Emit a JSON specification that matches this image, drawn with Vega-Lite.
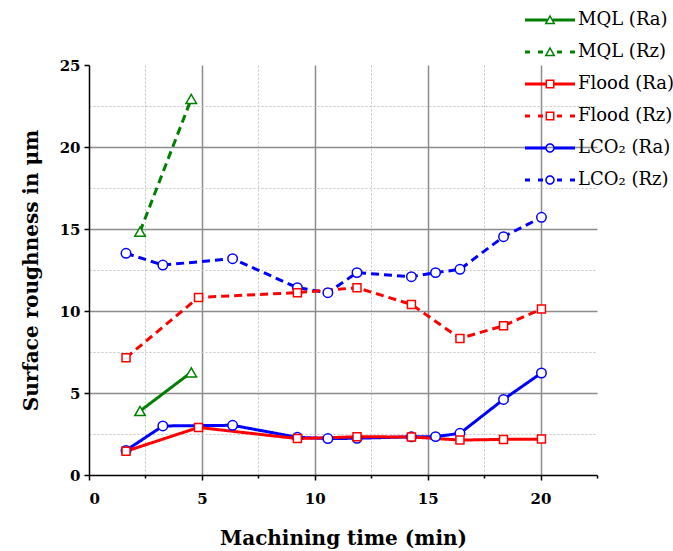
{
  "$schema": "https://vega.github.io/schema/vega-lite/v6.json",
  "width": 508,
  "height": 410,
  "autosize": {"type": "none"},
  "padding": {"left": 89, "top": 65, "right": 76, "bottom": 76},
  "background": "white",
  "config": {
    "view": {"stroke": null},
    "font": "DejaVu Serif",
    "axis": {
      "labelFont": "DejaVu Serif",
      "labelFontWeight": "bold",
      "labelFontSize": 15,
      "labelColor": "black",
      "titleFont": "DejaVu Serif",
      "titleFontWeight": "bold",
      "titleFontSize": 20,
      "titleColor": "black",
      "domainColor": "black",
      "domainWidth": 1.5,
      "tickColor": "black",
      "tickWidth": 1.5,
      "tickSize": 5
    },
    "legend": {
      "symbolStrokeWidth": 0,
      "labelFont": "DejaVu Serif",
      "labelFontSize": 18,
      "labelFontWeight": "normal",
      "labelColor": "black"
    }
  },
  "data": {
    "values": [
      {"method": "LCO2", "series": "LCO₂ (Ra)", "t": 1.64, "v": 1.5},
      {"method": "LCO2", "series": "LCO₂ (Ra)", "t": 3.27, "v": 2.99},
      {"method": "LCO2", "series": "LCO₂ (Ra)", "t": 6.36, "v": 3.03},
      {"method": "LCO2", "series": "LCO₂ (Ra)", "t": 9.23, "v": 2.3},
      {"method": "LCO2", "series": "LCO₂ (Ra)", "t": 10.58, "v": 2.22},
      {"method": "LCO2", "series": "LCO₂ (Ra)", "t": 11.87, "v": 2.24},
      {"method": "LCO2", "series": "LCO₂ (Ra)", "t": 14.28, "v": 2.33},
      {"method": "LCO2", "series": "LCO₂ (Ra)", "t": 15.35, "v": 2.34},
      {"method": "LCO2", "series": "LCO₂ (Ra)", "t": 16.43, "v": 2.54},
      {"method": "LCO2", "series": "LCO₂ (Ra)", "t": 18.36, "v": 4.61},
      {"method": "LCO2", "series": "LCO₂ (Ra)", "t": 20.04, "v": 6.22},
      {"method": "LCO2", "series": "LCO₂ (Rz)", "t": 1.64, "v": 13.52},
      {"method": "LCO2", "series": "LCO₂ (Rz)", "t": 3.27, "v": 12.8},
      {"method": "LCO2", "series": "LCO₂ (Rz)", "t": 6.36, "v": 13.19},
      {"method": "LCO2", "series": "LCO₂ (Rz)", "t": 9.23, "v": 11.42},
      {"method": "LCO2", "series": "LCO₂ (Rz)", "t": 10.58, "v": 11.12},
      {"method": "LCO2", "series": "LCO₂ (Rz)", "t": 11.87, "v": 12.34},
      {"method": "LCO2", "series": "LCO₂ (Rz)", "t": 14.28, "v": 12.09},
      {"method": "LCO2", "series": "LCO₂ (Rz)", "t": 15.35, "v": 12.34},
      {"method": "LCO2", "series": "LCO₂ (Rz)", "t": 16.43, "v": 12.54},
      {"method": "LCO2", "series": "LCO₂ (Rz)", "t": 18.36, "v": 14.53},
      {"method": "LCO2", "series": "LCO₂ (Rz)", "t": 20.04, "v": 15.71},
      {"method": "Flood", "series": "Flood (Ra)", "t": 1.64, "v": 1.45},
      {"method": "Flood", "series": "Flood (Ra)", "t": 4.85, "v": 2.9},
      {"method": "Flood", "series": "Flood (Ra)", "t": 9.23, "v": 2.22},
      {"method": "Flood", "series": "Flood (Ra)", "t": 11.87, "v": 2.33},
      {"method": "Flood", "series": "Flood (Ra)", "t": 14.28, "v": 2.32},
      {"method": "Flood", "series": "Flood (Ra)", "t": 16.43, "v": 2.13},
      {"method": "Flood", "series": "Flood (Ra)", "t": 18.36, "v": 2.17},
      {"method": "Flood", "series": "Flood (Ra)", "t": 20.04, "v": 2.19},
      {"method": "Flood", "series": "Flood (Rz)", "t": 1.64, "v": 7.15},
      {"method": "Flood", "series": "Flood (Rz)", "t": 4.85, "v": 10.83},
      {"method": "Flood", "series": "Flood (Rz)", "t": 9.23, "v": 11.12},
      {"method": "Flood", "series": "Flood (Rz)", "t": 11.87, "v": 11.42},
      {"method": "Flood", "series": "Flood (Rz)", "t": 14.28, "v": 10.4},
      {"method": "Flood", "series": "Flood (Rz)", "t": 16.43, "v": 8.33},
      {"method": "Flood", "series": "Flood (Rz)", "t": 18.36, "v": 9.1},
      {"method": "Flood", "series": "Flood (Rz)", "t": 20.04, "v": 10.12},
      {"method": "MQL", "series": "MQL (Ra)", "t": 2.26, "v": 3.9},
      {"method": "MQL", "series": "MQL (Ra)", "t": 4.53, "v": 6.26},
      {"method": "MQL", "series": "MQL (Rz)", "t": 2.26, "v": 14.84},
      {"method": "MQL", "series": "MQL (Rz)", "t": 4.53, "v": 22.93}
    ]
  },
  "encoding": {
    "x": {
      "field": "t", "type": "quantitative",
      "scale": {"domain": [0, 22.5], "nice": false, "zero": false},
      "axis": {
        "title": "Machining time (min)",
        "values": [0, 2.5, 5, 7.5, 10, 12.5, 15, 17.5, 20, 22.5],
        "labelExpr": "datum.value % 5 === 0 ? datum.label : ''",
        "labelPadding": 11,
        "titlePadding": 22,
        "grid": true,
        "gridColor": {"condition": {"test": "datum.value % 5 !== 0", "value": "#c4c4c4"}, "value": "#8c8c8c"},
        "gridDash": {"condition": {"test": "datum.value % 5 !== 0", "value": [2, 2]}, "value": []},
        "gridWidth": {"condition": {"test": "datum.value % 5 !== 0", "value": 1}, "value": 1.5},
        "gridOpacity": {"condition": {"test": "datum.value === 0 || datum.value >= 22.5", "value": 0}, "value": 1},
        "tickSize": {"condition": {"test": "datum.value % 5 !== 0", "value": 3}, "value": 5}
      }
    },
    "y": {
      "field": "v", "type": "quantitative",
      "scale": {"domain": [0, 25], "nice": false},
      "axis": {
        "title": "Surface roughness in μm",
        "values": [0, 2.5, 5, 7.5, 10, 12.5, 15, 17.5, 20, 22.5, 25],
        "labelExpr": "datum.value % 5 === 0 ? datum.label : ''",
        "labelPadding": 4,
        "titlePadding": 18,
        "grid": true,
        "gridColor": {"condition": {"test": "datum.value % 5 !== 0", "value": "#c4c4c4"}, "value": "#8c8c8c"},
        "gridDash": {"condition": {"test": "datum.value % 5 !== 0", "value": [2, 2]}, "value": []},
        "gridWidth": {"condition": {"test": "datum.value % 5 !== 0", "value": 1}, "value": 1.5},
        "gridOpacity": {"condition": {"test": "datum.value === 0 || datum.value >= 25", "value": 0}, "value": 1},
        "tickOpacity": {"condition": {"test": "datum.value % 5 !== 0", "value": 0}, "value": 1}
      }
    }
  },
  "layer": [
    {
      "mark": {"type": "line", "strokeWidth": 3},
      "encoding": {
        "color": {
          "field": "series", "type": "nominal",
          "scale": {
            "domain": ["MQL (Ra)", "MQL (Rz)", "Flood (Ra)", "Flood (Rz)", "LCO₂ (Ra)", "LCO₂ (Rz)"],
            "range": ["#008000", "#008000", "#ff0000", "#ff0000", "#0000ff", "#0000ff"]
          }
        },
        "strokeDash": {
          "field": "series", "type": "nominal",
          "scale": {
            "domain": ["MQL (Ra)", "MQL (Rz)", "Flood (Ra)", "Flood (Rz)", "LCO₂ (Ra)", "LCO₂ (Rz)"],
            "range": [[1, 0], [8, 5], [1, 0], [8, 5], [1, 0], [8, 5]]
          },
          "legend": null
        }
      }
    },
    {
      "transform": [{"filter": "datum.method === 'LCO2'"}],
      "mark": {"type": "point", "filled": true, "fill": "white", "shape": "circle", "size": 90, "strokeWidth": 1.5, "opacity": 1},
      "encoding": {
        "stroke": {
          "field": "series", "type": "nominal",
          "scale": {
            "domain": ["MQL (Ra)", "MQL (Rz)", "Flood (Ra)", "Flood (Rz)", "LCO₂ (Ra)", "LCO₂ (Rz)"],
            "range": ["#008000", "#008000", "#ff0000", "#ff0000", "#0000ff", "#0000ff"]
          },
          "legend": null
        }
      }
    },
    {
      "transform": [{"filter": "datum.method === 'Flood'"}],
      "mark": {"type": "point", "filled": true, "fill": "white", "shape": "square", "size": 64, "strokeWidth": 1.5, "opacity": 1},
      "encoding": {
        "stroke": {"field": "series", "type": "nominal", "legend": null}
      }
    },
    {
      "transform": [{"filter": "datum.method === 'MQL'"}],
      "mark": {"type": "point", "filled": true, "fill": "white", "shape": "triangle-up", "size": 110, "strokeWidth": 1.5, "opacity": 1},
      "encoding": {
        "stroke": {"field": "series", "type": "nominal", "legend": null}
      }
    },
    {
      "transform": [{"filter": "datum.t < 0"}],
      "mark": {"type": "point", "filled": true, "opacity": 1, "size": 2500},
      "encoding": {
        "color": {
          "field": "series", "type": "nominal",
          "legend": {
            "title": null,
            "orient": "none",
            "legendX": 436,
            "legendY": -60,
            "padding": 0,
            "symbolSize": 2500,
            "symbolStrokeWidth": 0,
            "symbolOpacity": 1,
            "clipHeight": 30,
            "rowPadding": 2,
            "labelFont": "DejaVu Serif",
            "labelFontSize": 18,
            "labelColor": "black",
            "labelOffset": 3,
            "labelLimit": 200
          }
        },
        "shape": {
          "field": "series", "type": "nominal",
          "scale": {
            "domain": ["MQL (Ra)", "MQL (Rz)", "Flood (Ra)", "Flood (Rz)", "LCO₂ (Ra)", "LCO₂ (Rz)"],
            "range": [
              "M-1,-0.06H-0.11V0.06H-1Z M0.11,-0.06H1V0.06H0.11Z M0,-0.22L0.22,0.17L-0.22,0.17Z M0,-0.098L-0.117,0.11L0.117,0.11Z",
              "M-1,-0.06H-0.8V0.06H-1Z M-0.48,-0.06H-0.28V0.06H-0.48Z M0.28,-0.06H0.48V0.06H0.28Z M0.8,-0.06H1V0.06H0.8Z M0,-0.22L0.22,0.17L-0.22,0.17Z M0,-0.098L-0.117,0.11L0.117,0.11Z",
              "M-1,-0.06H-0.17V0.06H-1Z M0.17,-0.06H1V0.06H0.17Z M-0.18,-0.18H0.18V0.18H-0.18Z M-0.12,-0.12V0.12H0.12V-0.12Z",
              "M-1,-0.06H-0.8V0.06H-1Z M-0.48,-0.06H-0.28V0.06H-0.48Z M0.28,-0.06H0.48V0.06H0.28Z M0.8,-0.06H1V0.06H0.8Z M-0.18,-0.18H0.18V0.18H-0.18Z M-0.12,-0.12V0.12H0.12V-0.12Z",
              "M-1,-0.06H-0.17V0.06H-1Z M0.17,-0.06H1V0.06H0.17Z M0.19,0A0.19,0.19 0 1,1 -0.19,0A0.19,0.19 0 1,1 0.19,0Z M0.13,0A0.13,0.13 0 1,0 -0.13,0A0.13,0.13 0 1,0 0.13,0Z",
              "M-1,-0.06H-0.8V0.06H-1Z M-0.48,-0.06H-0.28V0.06H-0.48Z M0.28,-0.06H0.48V0.06H0.28Z M0.8,-0.06H1V0.06H0.8Z M0.19,0A0.19,0.19 0 1,1 -0.19,0A0.19,0.19 0 1,1 0.19,0Z M0.13,0A0.13,0.13 0 1,0 -0.13,0A0.13,0.13 0 1,0 0.13,0Z"
            ]
          },
          "legend": {
            "title": null,
            "orient": "none",
            "legendX": 436,
            "legendY": -60,
            "padding": 0,
            "symbolSize": 2500,
            "symbolStrokeWidth": 0,
            "symbolOpacity": 1,
            "clipHeight": 30,
            "rowPadding": 2,
            "labelFont": "DejaVu Serif",
            "labelFontSize": 18,
            "labelColor": "black",
            "labelOffset": 3,
            "labelLimit": 200
          }
        }
      }
    }
  ]
}
